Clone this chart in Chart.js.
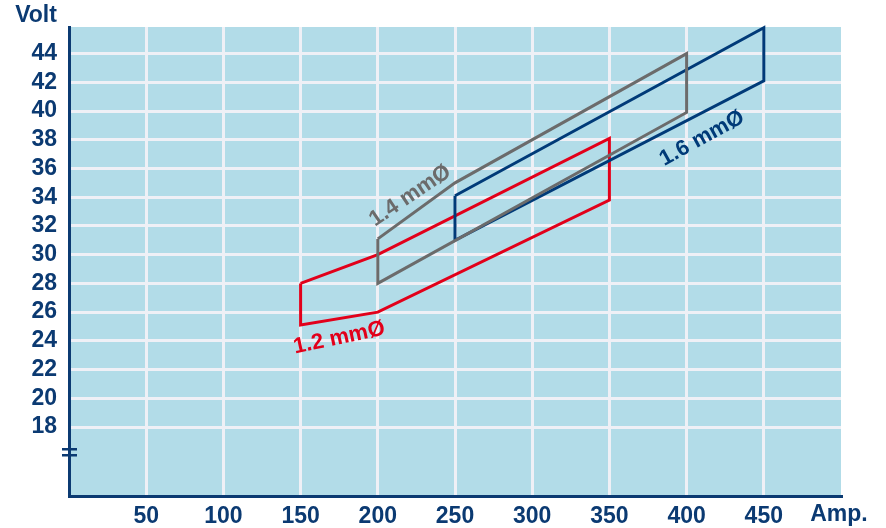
<!DOCTYPE html>
<html>
<head>
<meta charset="utf-8">
<script src="https://cdn.jsdelivr.net/npm/chart.js@4"></script>
<style>
  html, body { margin: 0; padding: 0; background: #ffffff; }
  #wrap { width: 886px; height: 528px; }
</style>
</head>
<body>
<div id="wrap"><canvas id="chart"></canvas></div>
<script>
// Datos (Amperios / Voltios)
const xTicks = [50, 100, 150, 200, 250, 300, 350, 400, 450];
const yTicks = [18, 20, 22, 24, 26, 28, 30, 32, 34, 36, 38, 40, 42, 44];

const amp12 = [150, 200, 350, 350, 200, 150, 150];
const volt12 = [28, 30, 38.1, 33.8, 26, 25.1, 28];

const amp14 = [200, 250, 400, 400, 200, 200];
const volt14 = [31.1, 35, 44, 39.9, 28, 31.1];

const amp16 = [250, 450, 450, 250, 250];
const volt16 = [34.1, 45.8, 42.1, 31, 34.1];

const seriesNames = ["1.2 mmØ", "1.4 mmØ", "1.6 mmØ"];

const navy = '#0b3a72';
const font = 'bold 23px "Liberation Sans", Arial, sans-serif';

function toPoints(xs, ys) {
  return xs.map((x, i) => ({ x: x, y: ys[i] }));
}

// Fondo del area del grafico
const plotBackground = {
  id: 'plotBackground',
  beforeDraw(chart) {
    const { ctx, chartArea: a } = chart;
    ctx.save();
    ctx.fillStyle = '#b2dce8';
    ctx.fillRect(a.left, a.top, a.right - a.left, a.bottom - a.top);
    ctx.restore();
  }
};

// Textos: titulos de ejes, etiquetas de curvas y marca de corte
const extras = {
  id: 'extras',
  afterDraw(chart) {
    const { ctx } = chart;
    const xs = chart.scales.x, ys = chart.scales.y;
    ctx.save();
    ctx.font = font;
    ctx.fillStyle = navy;
    ctx.textAlign = 'center';
    ctx.textBaseline = 'middle';
    ctx.fillText('Volt', 36, 16);
    ctx.fillText('Amp.', 839, 515);

    // marca de corte del eje Y
    const yb = ys.getPixelForValue(16.25);
    ctx.strokeStyle = navy;
    ctx.lineWidth = 2.5;
    ctx.beginPath();
    ctx.moveTo(62, yb - 3); ctx.lineTo(77, yb - 3);
    ctx.moveTo(62, yb + 3); ctx.lineTo(77, yb + 3);
    ctx.stroke();

    const labels = [
      { t: seriesNames[0], x: 175, y: 24.2, a: -12, c: '#e2001a' },
      { t: seriesNames[1], x: 221, y: 34.1, a: -34, c: '#6b6b6b' },
      { t: seriesNames[2], x: 410, y: 38.1, a: -29, c: '#003a78' }
    ];
    ctx.font = 'bold 22px "Liberation Sans", Arial, sans-serif';
    labels.forEach(l => {
      ctx.save();
      ctx.translate(xs.getPixelForValue(l.x), ys.getPixelForValue(l.y));
      ctx.rotate(l.a * Math.PI / 180);
      ctx.fillStyle = l.c;
      ctx.fillText(l.t, 0, 0);
      ctx.restore();
    });
    ctx.restore();
  }
};

const lineStyle = { showLine: true, pointRadius: 0, borderWidth: 3, tension: 0, fill: false, clip: false };

new Chart(document.getElementById('chart').getContext('2d'), {
  type: 'scatter',
  data: {
    datasets: [
      Object.assign({ label: seriesNames[1], data: toPoints(amp14, volt14), borderColor: '#6b6b6b' }, lineStyle),
      Object.assign({ label: seriesNames[2], data: toPoints(amp16, volt16), borderColor: '#003a78' }, lineStyle),
      Object.assign({ label: seriesNames[0], data: toPoints(amp12, volt12), borderColor: '#e2001a' }, lineStyle)
    ]
  },
  options: {
    responsive: true,
    maintainAspectRatio: false,
    animation: false,
    layout: { padding: { top: 27, right: 45, left: 0, bottom: 0 } },
    plugins: { legend: { display: false }, tooltip: { enabled: false } },
    scales: {
      x: {
        type: 'linear',
        min: 0,
        max: 500,
        afterBuildTicks(scale) { scale.ticks = xTicks.map(v => ({ value: v })); },
        afterFit(scale) { scale.height = 32; },
        grid: { color: '#eff0f6', lineWidth: 3, drawTicks: false },
        border: { color: navy, width: 3 },
        ticks: {
          padding: 7,
          color: navy,
          font: { family: '"Liberation Sans", Arial, sans-serif', size: 23, weight: 'bold' },
          maxRotation: 0,
          autoSkip: false
        }
      },
      y: {
        type: 'linear',
        min: 13.2,
        max: 45.85,
        afterBuildTicks(scale) { scale.ticks = yTicks.map(v => ({ value: v })); },
        afterFit(scale) { scale.width = 69; },
        grid: { color: '#eff0f6', lineWidth: 3, drawTicks: false },
        border: { color: navy, width: 3 },
        ticks: {
          padding: 12,
          color: navy,
          font: { family: '"Liberation Sans", Arial, sans-serif', size: 23, weight: 'bold' },
          autoSkip: false
        }
      }
    }
  },
  plugins: [plotBackground, extras]
});
</script>
</body>
</html>
